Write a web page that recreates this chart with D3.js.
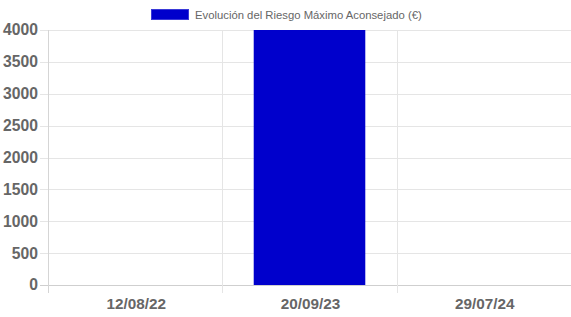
<!DOCTYPE html>
<html><head><meta charset="utf-8">
<script src="https://cdn.jsdelivr.net/npm/d3@7"></script>
<style>body{margin:0;background:#fff}svg{display:block}</style>
</head><body>
<svg id="c" width="571" height="317"></svg>
<script>
const categories = ["12/08/22", "20/09/23", "29/07/24"];
const values = [0, 4000, 0];
const yTicks = [0, 500, 1000, 1500, 2000, 2500, 3000, 3500, 4000];
const seriesName = "Evolución del Riesgo Máximo Aconsejado (€)";

const W = 571, H = 317;
const m = {left: 48, right: 0, top: 30, bottom: 32};
const svg = d3.select("#c");
const font = "'Liberation Sans', Arial, Helvetica, sans-serif";

const x = d3.scaleBand().domain(categories).range([m.left, W - m.right]).paddingInner(0).paddingOuter(0);
const y = d3.scaleLinear().domain([0, 4000]).range([H - m.bottom, m.top]);

const grid = "#e5e5e5";
const yAxis = svg.append("g");
yTicks.forEach(t => {
  yAxis.append("line").attr("x1", m.left - 8).attr("x2", W - m.right)
    .attr("y1", Math.round(y(t)) + 0.5).attr("y2", Math.round(y(t)) + 0.5)
    .attr("stroke", t === 0 ? "#cfcfcf" : grid).attr("stroke-width", 1);
  yAxis.append("text").attr("x", m.left - 10).attr("y", y(t)).attr("dy", "0.35em")
    .attr("text-anchor", "end").attr("font-family", font).attr("font-size", 15.7)
    .attr("font-weight", "bold").attr("fill", "#666").text(t);
});
const bounds = [m.left].concat(categories.map(c => x(c) + x.bandwidth()));
bounds.forEach((bx, i) => {
  svg.append("line").attr("x1", Math.round(bx) + 0.5).attr("x2", Math.round(bx) + 0.5)
    .attr("y1", m.top).attr("y2", H - m.bottom + 8)
    .attr("stroke", i === 0 ? "#d5d5d5" : grid).attr("stroke-width", 1);
});
categories.forEach(c => {
  svg.append("text").attr("x", x(c) + x.bandwidth() / 2 + 1).attr("y", 303.5).attr("dy", "0.35em")
    .attr("text-anchor", "middle").attr("font-family", font).attr("font-size", 15.3)
    .attr("font-weight", "bold").attr("fill", "#666").text(c);
});
const bw = x.bandwidth() * 0.64;
svg.append("g").selectAll("rect").data(categories.map((c, i) => ({c, v: values[i]})))
  .join("rect")
  .attr("x", d => x(d.c) + (x.bandwidth() - bw) / 2)
  .attr("width", bw)
  .attr("y", d => y(d.v))
  .attr("height", d => y(0) - y(d.v))
  .attr("fill", "#0000cc");
const lg = svg.append("g");
lg.append("rect").attr("x", 151.5).attr("y", 9.5).attr("width", 37).attr("height", 10)
  .attr("fill", "#0000cc").attr("stroke", "#3a3ad8").attr("stroke-width", 1);
lg.append("text").attr("x", 195).attr("y", 15).attr("dy", "0.35em")
  .attr("font-family", font).attr("font-size", 11.3).attr("fill", "#666").text(seriesName);
</script>
</body></html>
